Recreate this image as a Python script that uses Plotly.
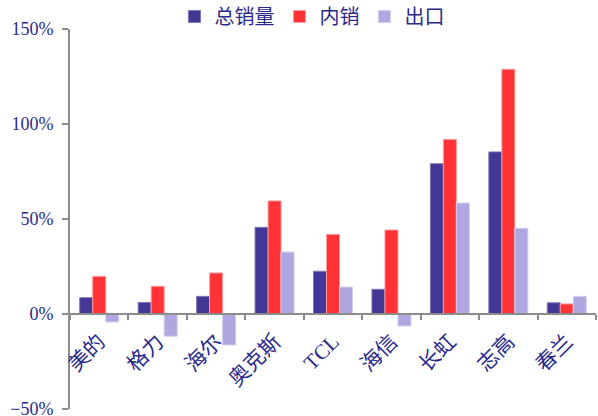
import plotly.graph_objects as go

categories = ["美的", "格力", "海尔", "奥克斯", "TCL", "海信", "长虹", "志高", "春兰"]
total_sales = [8.6, 6.1, 9.3, 45.6, 22.5, 13.0, 79.1, 85.3, 5.9]
domestic = [19.8, 14.6, 21.6, 59.5, 41.9, 44.2, 91.9, 128.8, 5.3]
export = [-4.2, -11.7, -16.3, 32.6, 14.2, -6.3, 58.4, 45.1, 9.3]
series_names = ["总销量", "内销", "出口"]
y_ticks = [-50, 0, 50, 100, 150]
y_tick_labels = ["−50%", "0%", "50%", "100%", "150%"]

colors = ["#433795", "#ff3336", "#b0a7e0"]
line_colors = ["#7e76b8", "#ff9a9c", "#d3cdf0"]
text_color = "#2b2a8c"
font_family = "Liberation Serif, Noto Sans CJK SC, serif"

fig = go.Figure()
for name, vals, c, lc in zip(series_names, [total_sales, domestic, export], colors, line_colors):
    fig.add_trace(go.Bar(
        x=categories, y=vals, name=name,
        marker=dict(color=c, line=dict(color=lc, width=1)),
    ))

fig.update_layout(
    width=598, height=416,
    margin=dict(l=70, r=2, t=29, b=7, autoexpand=False),
    paper_bgcolor="white", plot_bgcolor="white",
    barmode="group", bargap=0.333, bargroupgap=0,
    font=dict(family=font_family, color=text_color, size=16),
    showlegend=True,
    legend=dict(
        orientation="h", x=0.46, xanchor="center", y=1.033, yanchor="middle",
        font=dict(size=20, color=text_color, family="Noto Sans CJK SC"),
        itemwidth=30, traceorder="normal",
    ),
    xaxis=dict(
        type="category", anchor="free", position=0.25, automargin=False,
        showline=True, linecolor="#8c8c8c", linewidth=2,
        ticks="outside", tickson="boundaries", ticklen=5, tickcolor="#8c8c8c", tickwidth=2,
        tickangle=-45, showgrid=False, zeroline=False, ticklabelstandoff=6,
        tickfont=dict(size=21, color=text_color, family="Liberation Serif, Noto Sans CJK SC"),
    ),
    yaxis=dict(
        range=[-50, 150], tickvals=y_ticks, ticktext=y_tick_labels, automargin=False,
        showline=True, linecolor="#8c8c8c", linewidth=2,
        ticks="outside", ticklen=6, tickcolor="#8c8c8c", tickwidth=2,
        showgrid=False, zeroline=False, ticklabelstandoff=5, ticklabeloverflow="allow",
        tickfont=dict(size=18, color=text_color, family="Liberation Serif"),
    ),
)

fig.write_html("out.html")
